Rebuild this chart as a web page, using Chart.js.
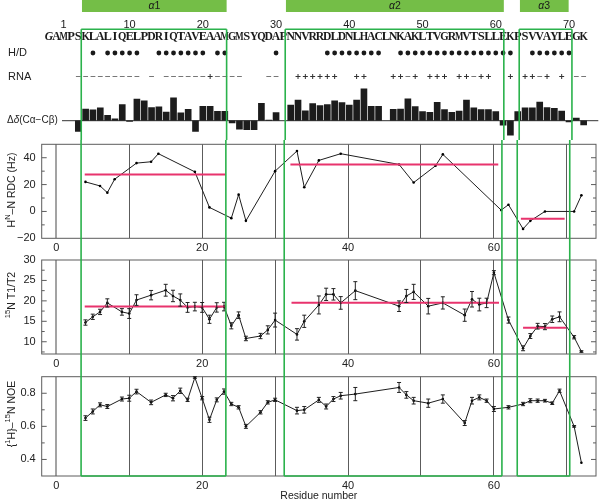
<!DOCTYPE html>
<html>
<head>
<meta charset="utf-8">
<script src="https://cdn.jsdelivr.net/npm/chart.js@4.4.1/dist/chart.umd.min.js"></script>
<style>
  html, body { margin: 0; padding: 0; background: #fff; }
  #page { position: relative; width: 600px; height: 501px; overflow: hidden; }
  .panel { position: absolute; left: 0; width: 600px; }
</style>
</head>
<body>
<div id="page">
  <div class="panel" style="top:0;height:140px"><canvas id="top"></canvas></div>
  <div class="panel" style="top:140px;height:115px"><canvas id="rdc"></canvas></div>
  <div class="panel" style="top:255px;height:115px"><canvas id="t1t2"></canvas></div>
  <div class="panel" style="top:370px;height:131px"><canvas id="noe"></canvas></div>
</div>
<script>
// ---- Data ----

const sequence = 'GAMPSKLALIQELPDRIQTAVEAAMGMSYQDAPNNVRRDLDNLHACLNKAKLTVGRMVTSLLEKPSVVAYLEGK';
const firstResidue = -1;
const numberLabels = [1, 10, 20, 30, 40, 50, 60, 70];

const helixNames = ['1', '2', '3'];
const helixStart = [3.4, 31.25, 63.2];
const helixEnd = [23.25, 61.1, 70.4];

const hdProtected = [5, 7, 8, 9, 10, 11, 14, 15, 16, 17, 18, 19, 20, 22, 23, 30,
    37, 38, 39, 40, 41, 42, 43, 44,
    47, 48, 49, 50, 51, 52, 53, 54, 55, 56, 57, 58, 59, 60, 61, 62,
    65, 66, 67, 68, 69, 70];
const rnaMinus = [3, 4, 5, 6, 7, 8, 9, 10, 11, 13, 15, 16, 17, 18, 19, 20, 22, 23, 24, 25,
    29, 30, 48, 57, 66, 71, 72];
const rnaPlus = [21, 33, 34, 35, 36, 37, 38, 41, 42, 46, 47, 49, 51, 52, 53, 55, 56, 58, 59,
    62, 64, 65, 67, 69];

// secondary chemical shift, residues 3..72 (null = not available)
const deltaResidues = Array.from({ length: 70 }, (_, i) => i + 3);
const deltaValues = [
    -1.8, 1.95, 1.8, 2.15, 0.9, 0.3, 2.7, -0.1, 3.6, 3.3,
    2.2, 2.3, 1.45, 3.8, 1.3, 1.9, -1.8, 2.4, 2.4, 1.55,
    1.55, -0.35, -1.4, -1.5, -1.5, 2.9, 0.1, 1.35, null, 2.6,
    3.45, 1.65, 2.85, 2.5, 2.7, 3.3, 3.0, 2.6, 3.45, 5.3,
    2.4, 2.4, null, 1.9, 1.95, 3.65, 2.35, 1.5, 1.4, 3.05,
    1.85, 1.4, 1.6, 3.45, 2.15, 1.85, 1.85, 1.5, -0.75, -2.4,
    1.5, 2.15, 2.15, 3.1, 2.2, 2.05, 1.6, -0.2, 0.45, -0.7];

const rdcResidues = [4, 6, 7, 8, 11, 13, 14, 19, 21, 24, 25, 26, 30, 33, 34, 36, 39,
    47, 49, 52, 53, 61, 62, 64, 65, 67, 71, 72];
const rdcValues = [22, 19, 14, 24, 36, 37, 43, 29.5, 3, -5, 12.5, -7, 30, 45, 18, 38, 43,
    35, 21.5, 34, 42.5, 1, 5, -13, -7, 0, 0, 12];
const rdcMeanStart = [3.9, 32.1, 63.7];
const rdcMeanEnd = [23.2, 60.6, 69.7];
const rdcMeanValue = [27.5, 35, -5.5];

const relaxResidues = [4, 5, 6, 7, 9, 10, 11, 13, 15, 16, 17, 18, 19, 20, 21, 22, 23, 24,
    25, 26, 28, 29, 30, 33, 34, 36, 37, 38, 39, 41, 47, 48, 49, 51, 53, 56, 57, 58, 59, 60,
    62, 64, 65, 66, 67, 68, 69, 71, 72];
const t1t2Values = [14.7, 16.1, 17.3, 19.5, 17.3, 16.9, 20.2, 21.4, 22.6, 21.2, 20.2, 18.4,
    18.6, 18.4, 15.5, 18.4, 18.6, 13.9, 16.5, 10.8, 11.4, 12.9, 15.3, 11.8, 15.0, 19.0, 21.6,
    21.6, 19.5, 22.5, 18.7, 21.2, 22.2, 18.7, 19.5, 16.5, 20.4, 19.1, 19.5, 26.9, 15.3, 8.4,
    11.4, 13.8, 13.7, 15.5, 16.1, 11.1, 7.6];
const t1t2Errors = [0.65, 0.65, 0.65, 1.0, 0.8, 1.2, 1.3, 1.15, 1.45, 1.4, 1.5, 1.2, 1.05,
    1.2, 1.0, 1.15, 1.05, 0.75, 0.8, 0.55, 0.65, 1.0, 1.7, 1.4, 1.5, 2.2, 1.5, 1.4, 1.55, 2.2,
    1.3, 1.6, 1.85, 1.9, 1.5, 1.5, 1.9, 1.55, 1.15, 0.5, 0.75, 0.6, 0.6, 0.7, 0.75, 0.8, 1.2,
    0.4, 0.2];
const t1t2MeanStart = [3.9, 32.25, 64.0];
const t1t2MeanEnd = [23.2, 60.7, 69.9];
const t1t2MeanValue = [18.6, 19.55, 13.4];

const noeValues = [0.65, 0.69, 0.73, 0.72, 0.765, 0.77, 0.81, 0.745, 0.79, 0.77, 0.815, 0.76,
    0.895, 0.77, 0.64, 0.76, 0.81, 0.735, 0.715, 0.60, 0.685, 0.745, 0.76, 0.695, 0.70, 0.76,
    0.72, 0.765, 0.785, 0.795, 0.835, 0.79, 0.755, 0.74, 0.765, 0.62, 0.755, 0.775, 0.755,
    0.705, 0.715, 0.735, 0.755, 0.755, 0.755, 0.74, 0.815, 0.60, 0.38];
const noeErrors = [0.014, 0.015, 0.012, 0.012, 0.012, 0.018, 0.014, 0.014, 0.01, 0.016,
    0.016, 0.01, 0.005, 0.01, 0.016, 0.012, 0.016, 0.01, 0.01, 0.012, 0.01, 0.01, 0.01, 0.02,
    0.02, 0.015, 0.015, 0.015, 0.02, 0.04, 0.03, 0.02, 0.02, 0.025, 0.025, 0.015, 0.02, 0.015,
    0.01, 0.015, 0.01, 0.01, 0.012, 0.01, 0.008, 0.008, 0.01, 0.005, 0];

// ---- Layout constants ----

const SANS = '"Liberation Sans", Arial, Helvetica, sans-serif';
const SERIF = '"Liberation Serif", "Times New Roman", serif';
const X_MIN = -2;
const X_MAX = 74;
const PLOT_LEFT = 41.7;
const PLOT_RIGHT_PAD = 1.7;
const BOX_TOP = 29.3;
const BOX_BOTTOM = 476;
const GREEN_BOX = '#2bb24c';
const GREEN_BAR = '#74be47';
const PINK = '#e8336d';

Chart.defaults.font.family = SANS;
Chart.defaults.font.size = 11;
Chart.defaults.color = '#222';
Chart.defaults.animation = false;
Chart.defaults.events = [];
Chart.defaults.devicePixelRatio = 1;
Chart.defaults.plugins.legend.display = false;
Chart.defaults.plugins.tooltip.enabled = false;

// ---- Helpers ----

function pts(xs, ys) {
    return xs.map((x, i) => ({ x, y: ys[i] }));
}

// text made of parts: [text, superscript?, italic?]
function layoutParts(ctx, parts, size) {
    let total = 0;
    const items = parts.map(([text, sup, italic]) => {
        const fs = sup ? size * 0.72 : size;
        const font = `${italic ? 'italic ' : ''}${fs}px ${SANS}`;
        ctx.font = font;
        const w = ctx.measureText(text).width;
        total += w;
        return { text, font, w, dy: sup ? -size * 0.36 : 0 };
    });
    return { items, total };
}

function drawParts(ctx, parts, size, x, y, align) {
    const { items, total } = layoutParts(ctx, parts, size);
    let cx = align === 'center' ? x - total / 2 : x;
    ctx.textAlign = 'left';
    ctx.textBaseline = 'middle';
    for (const it of items) {
        ctx.font = it.font;
        ctx.fillText(it.text, cx, y + it.dy);
        cx += it.w;
    }
}

function xAxis(height) {
    return {
        type: 'linear',
        min: X_MIN,
        max: X_MAX,
        offset: false,
        afterFit: (s) => {
            s.height = height;
            s.paddingLeft = 0; s.paddingRight = 0; s.paddingTop = 0; s.paddingBottom = 0;
        },
        ticks: {
            stepSize: 10,
            includeBounds: false,
            autoSkip: false,
            maxRotation: 0,
            padding: 3,
            callback: (v) => (v % 20 === 0 ? String(v) : ''),
        },
        grid: {
            drawTicks: false,
            color: (c) => (c.tick && c.tick.value === 0 ? '#a3a3a3' : '#5c5c5c'),
            lineWidth: (c) => (c.tick && c.tick.value === 0 ? 2 : 1),
        },
        border: { display: false },
    };
}

function yAxis(min, max, step, isMajor, fmt) {
    return {
        type: 'linear',
        min,
        max,
        afterFit: (s) => {
            s.width = PLOT_LEFT;
            s.paddingLeft = 0; s.paddingRight = 0; s.paddingTop = 0; s.paddingBottom = 0;
        },
        ticks: {
            stepSize: step,
            includeBounds: false,
            autoSkip: false,
            padding: 6,
            callback: (v) => (isMajor(v) ? fmt(v) : ''),
        },
        grid: { display: false, drawTicks: false },
        border: { display: false },
    };
}

// ---- Plugins ----

const helixBoxes = {
    id: 'helixBoxes',
    afterDraw(chart, args, opts) {
        const { ctx } = chart;
        const x = chart.scales.x;
        const top = BOX_TOP - opts.pageTop;
        const bottom = BOX_BOTTOM - opts.pageTop;
        const y0 = Math.max(top, 0);
        const y1 = Math.min(bottom, chart.height);
        ctx.save();
        ctx.strokeStyle = GREEN_BOX;
        ctx.lineWidth = 1.6;
        helixStart.forEach((s, i) => {
            const a = x.getPixelForValue(s);
            const b = x.getPixelForValue(helixEnd[i]);
            ctx.beginPath();
            ctx.moveTo(a, y0); ctx.lineTo(a, y1);
            ctx.moveTo(b, y0); ctx.lineTo(b, y1);
            if (top >= 0 && top <= chart.height) { ctx.moveTo(a, top); ctx.lineTo(b, top); }
            if (bottom >= 0 && bottom <= chart.height) { ctx.moveTo(a, bottom); ctx.lineTo(b, bottom); }
            ctx.stroke();
        });
        ctx.restore();
    },
};

const frame = {
    id: 'frame',
    beforeDatasetsDraw(chart) {
        const { ctx, chartArea: a } = chart;
        const y = chart.scales.y;
        ctx.save();
        ctx.strokeStyle = '#5c5c5c';
        ctx.lineWidth = 1;
        ctx.strokeRect(a.left, a.top, a.right - a.left, a.bottom - a.top);
        ctx.beginPath();
        for (const t of y.ticks) {
            const py = y.getPixelForValue(t.value);
            if (py <= a.top + 1 || py >= a.bottom - 1) continue;
            const len = t.label !== '' ? 5 : 3;
            ctx.moveTo(a.left, py); ctx.lineTo(a.left + len, py);
            ctx.moveTo(a.right, py); ctx.lineTo(a.right - len, py);
        }
        ctx.stroke();
        ctx.restore();
    },
};

const errorBars = {
    id: 'errorBars',
    afterDatasetsDraw(chart) {
        const { ctx } = chart;
        const y = chart.scales.y;
        ctx.save();
        ctx.strokeStyle = '#222';
        ctx.lineWidth = 1;
        chart.data.datasets.forEach((ds, i) => {
            if (!ds.errors) return;
            const meta = chart.getDatasetMeta(i);
            ctx.beginPath();
            meta.data.forEach((el, j) => {
                const e = ds.errors[j];
                if (!e) return;
                const v = ds.data[j].y;
                const hi = y.getPixelForValue(v + e);
                const lo = y.getPixelForValue(v - e);
                ctx.moveTo(el.x, hi); ctx.lineTo(el.x, lo);
                ctx.moveTo(el.x - 2, hi); ctx.lineTo(el.x + 2, hi);
                ctx.moveTo(el.x - 2, lo); ctx.lineTo(el.x + 2, lo);
            });
            ctx.stroke();
        });
        ctx.restore();
    },
};

const yTitle = {
    id: 'yTitle',
    afterDraw(chart, args, opts) {
        const { ctx } = chart;
        ctx.save();
        ctx.fillStyle = '#222';
        ctx.translate(opts.x, opts.y);
        ctx.rotate(-Math.PI / 2);
        drawParts(ctx, opts.parts, 10.5, 0, 0, 'center');
        ctx.restore();
        if (opts.xTitle) {
            ctx.save();
            ctx.fillStyle = '#222';
            ctx.font = `10.5px ${SANS}`;
            ctx.textAlign = 'center';
            ctx.textBaseline = 'middle';
            const a = chart.chartArea;
            ctx.fillText(opts.xTitle, (a.left + a.right) / 2, opts.xTitleY);
            ctx.restore();
        }
    },
};

const sequenceRows = {
    id: 'sequenceRows',
    afterDraw(chart) {
        const { ctx } = chart;
        const x = chart.scales.x;
        const y0 = chart.scales.y.getPixelForValue(0);
        ctx.save();

        // helix header bars
        helixNames.forEach((name, i) => {
            const a = x.getPixelForValue(helixStart[i] + 0.1);
            const b = x.getPixelForValue(helixEnd[i] - (i === 2 ? 0.45 : 0));
            ctx.fillStyle = GREEN_BAR;
            ctx.fillRect(a, 0, b - a, 12);
            ctx.fillStyle = '#1a1a1a';
            drawParts(ctx, [['α', false, true], [name]], 10.5, (a + b) / 2, 6.5, 'center');
        });

        // residue numbers
        ctx.fillStyle = '#1a1a1a';
        ctx.font = `11px ${SANS}`;
        ctx.textAlign = 'center';
        ctx.textBaseline = 'middle';
        for (const n of numberLabels) {
            ctx.fillText(String(n), x.getPixelForValue(n), 24.5);
        }

        // sequence, each letter squeezed into its residue slot
        for (let i = 0; i < sequence.length; i++) {
            const r = firstResidue + i;
            ctx.font = `${i === 0 ? 'italic ' : ''}bold 12.5px ${SERIF}`;
            const w = ctx.measureText(sequence[i]).width;
            const k = Math.min(1, 8.4 / w);
            ctx.save();
            ctx.translate(x.getPixelForValue(r), 37);
            ctx.scale(k, 1);
            ctx.fillText(sequence[i], 0, 0);
            ctx.restore();
        }

        // H/D protection
        for (const r of hdProtected) {
            ctx.beginPath();
            ctx.arc(x.getPixelForValue(r), 53, 2.4, 0, Math.PI * 2);
            ctx.fill();
        }

        // RNA perturbation
        ctx.lineWidth = 1;
        ctx.strokeStyle = '#777';
        ctx.beginPath();
        for (const r of rnaMinus) {
            const px = x.getPixelForValue(r);
            ctx.moveTo(px - 2.4, 76.5); ctx.lineTo(px + 2.4, 76.5);
        }
        ctx.stroke();
        ctx.strokeStyle = '#333';
        ctx.beginPath();
        for (const r of rnaPlus) {
            const px = x.getPixelForValue(r);
            ctx.moveTo(px - 2.5, 76.5); ctx.lineTo(px + 2.5, 76.5);
            ctx.moveTo(px, 74); ctx.lineTo(px, 79);
        }
        ctx.stroke();

        // row labels
        ctx.fillStyle = '#222';
        ctx.font = `11px ${SANS}`;
        ctx.textAlign = 'left';
        ctx.fillText('H/D', 8, 53);
        ctx.fillText('RNA', 8, 76.5);
        drawParts(ctx, [['Δ'], ['δ', false, true], ['(Cα−Cβ)']], 10, 7, y0, 'left');

        // zero line
        ctx.strokeStyle = '#333';
        ctx.beginPath();
        ctx.moveTo(62, y0);
        ctx.lineTo(chart.chartArea.right, y0);
        ctx.stroke();
        ctx.restore();
    },
};

// ---- Charts ----

function meanSegments(starts, ends, values) {
    return starts.map((s, i) => ({
        data: [{ x: s, y: values[i] }, { x: ends[i], y: values[i] }],
        borderColor: PINK,
        borderWidth: 2,
        pointRadius: 0,
        order: 0,
    }));
}

function dataLine(xs, ys, errors) {
    return {
        data: pts(xs, ys),
        errors,
        borderColor: '#1e1e1e',
        borderWidth: 1,
        pointRadius: 1.3,
        pointBackgroundColor: '#000',
        pointBorderWidth: 0,
        order: 1,
    };
}

new Chart(document.getElementById('top'), {
    type: 'bar',
    data: {
        datasets: [{
            data: pts(deltaResidues, deltaValues),
            backgroundColor: '#1c1c1c',
            borderWidth: 0,
            barThickness: 6,
        }],
    },
    options: {
        responsive: true,
        maintainAspectRatio: false,
        layout: { padding: { left: PLOT_LEFT, right: PLOT_RIGHT_PAD, top: 80.5, bottom: 0.1 } },
        scales: {
            x: { type: 'linear', min: X_MIN, max: X_MAX, offset: false, display: false },
            y: { type: 'linear', min: -3.2, max: 6.7, display: false },
        },
        plugins: { helixBoxes: { pageTop: 0 } },
    },
    plugins: [sequenceRows, helixBoxes],
});

new Chart(document.getElementById('rdc'), {
    type: 'line',
    data: {
        datasets: [
            ...meanSegments(rdcMeanStart, rdcMeanEnd, rdcMeanValue),
            dataLine(rdcResidues, rdcValues, null),
        ],
    },
    options: {
        responsive: true,
        maintainAspectRatio: false,
        layout: { padding: { left: 0, right: PLOT_RIGHT_PAD, top: 4.3, bottom: 0 } },
        scales: {
            x: xAxis(16.7),
            y: yAxis(-20, 50, 10, (v) => v % 20 === 0 && v < 50, (v) => (v < 0 ? '−' + (-v) : String(v))),
        },
        plugins: {
            helixBoxes: { pageTop: 140 },
            yTitle: { x: 12, y: 50, parts: [['H'], ['N', true], ['–N RDC (Hz)']] },
        },
    },
    plugins: [frame, errorBars, yTitle, helixBoxes],
});

new Chart(document.getElementById('t1t2'), {
    type: 'line',
    data: {
        datasets: [
            ...meanSegments(t1t2MeanStart, t1t2MeanEnd, t1t2MeanValue),
            dataLine(relaxResidues, t1t2Values, t1t2Errors),
        ],
    },
    options: {
        responsive: true,
        maintainAspectRatio: false,
        layout: { padding: { left: 0, right: PLOT_RIGHT_PAD, top: 5, bottom: 0 } },
        scales: {
            x: xAxis(16),
            y: yAxis(7, 30, 2.5, (v) => v % 5 === 0, (v) => String(v)),
        },
        plugins: {
            helixBoxes: { pageTop: 255 },
            yTitle: { x: 12, y: 40, parts: [['15', true], ['N T1/T2']] },
        },
    },
    plugins: [frame, errorBars, yTitle, helixBoxes],
});

new Chart(document.getElementById('noe'), {
    type: 'line',
    data: {
        datasets: [dataLine(relaxResidues, noeValues, noeErrors)],
    },
    options: {
        responsive: true,
        maintainAspectRatio: false,
        layout: { padding: { left: 0, right: PLOT_RIGHT_PAD, top: 6.7, bottom: 0 } },
        scales: {
            x: xAxis(25),
            y: yAxis(0.3, 0.9, 0.1, (v) => [4, 6, 8].includes(Math.round(v * 10)), (v) => v.toFixed(1)),
        },
        plugins: {
            helixBoxes: { pageTop: 370 },
            yTitle: {
                x: 12, y: 44,
                parts: [['{'], ['1', true], ['H}–'], ['15', true], ['N NOE']],
                xTitle: 'Residue number', xTitleY: 126,
            },
        },
    },
    plugins: [frame, errorBars, yTitle, helixBoxes],
});
</script>
</body>
</html>
